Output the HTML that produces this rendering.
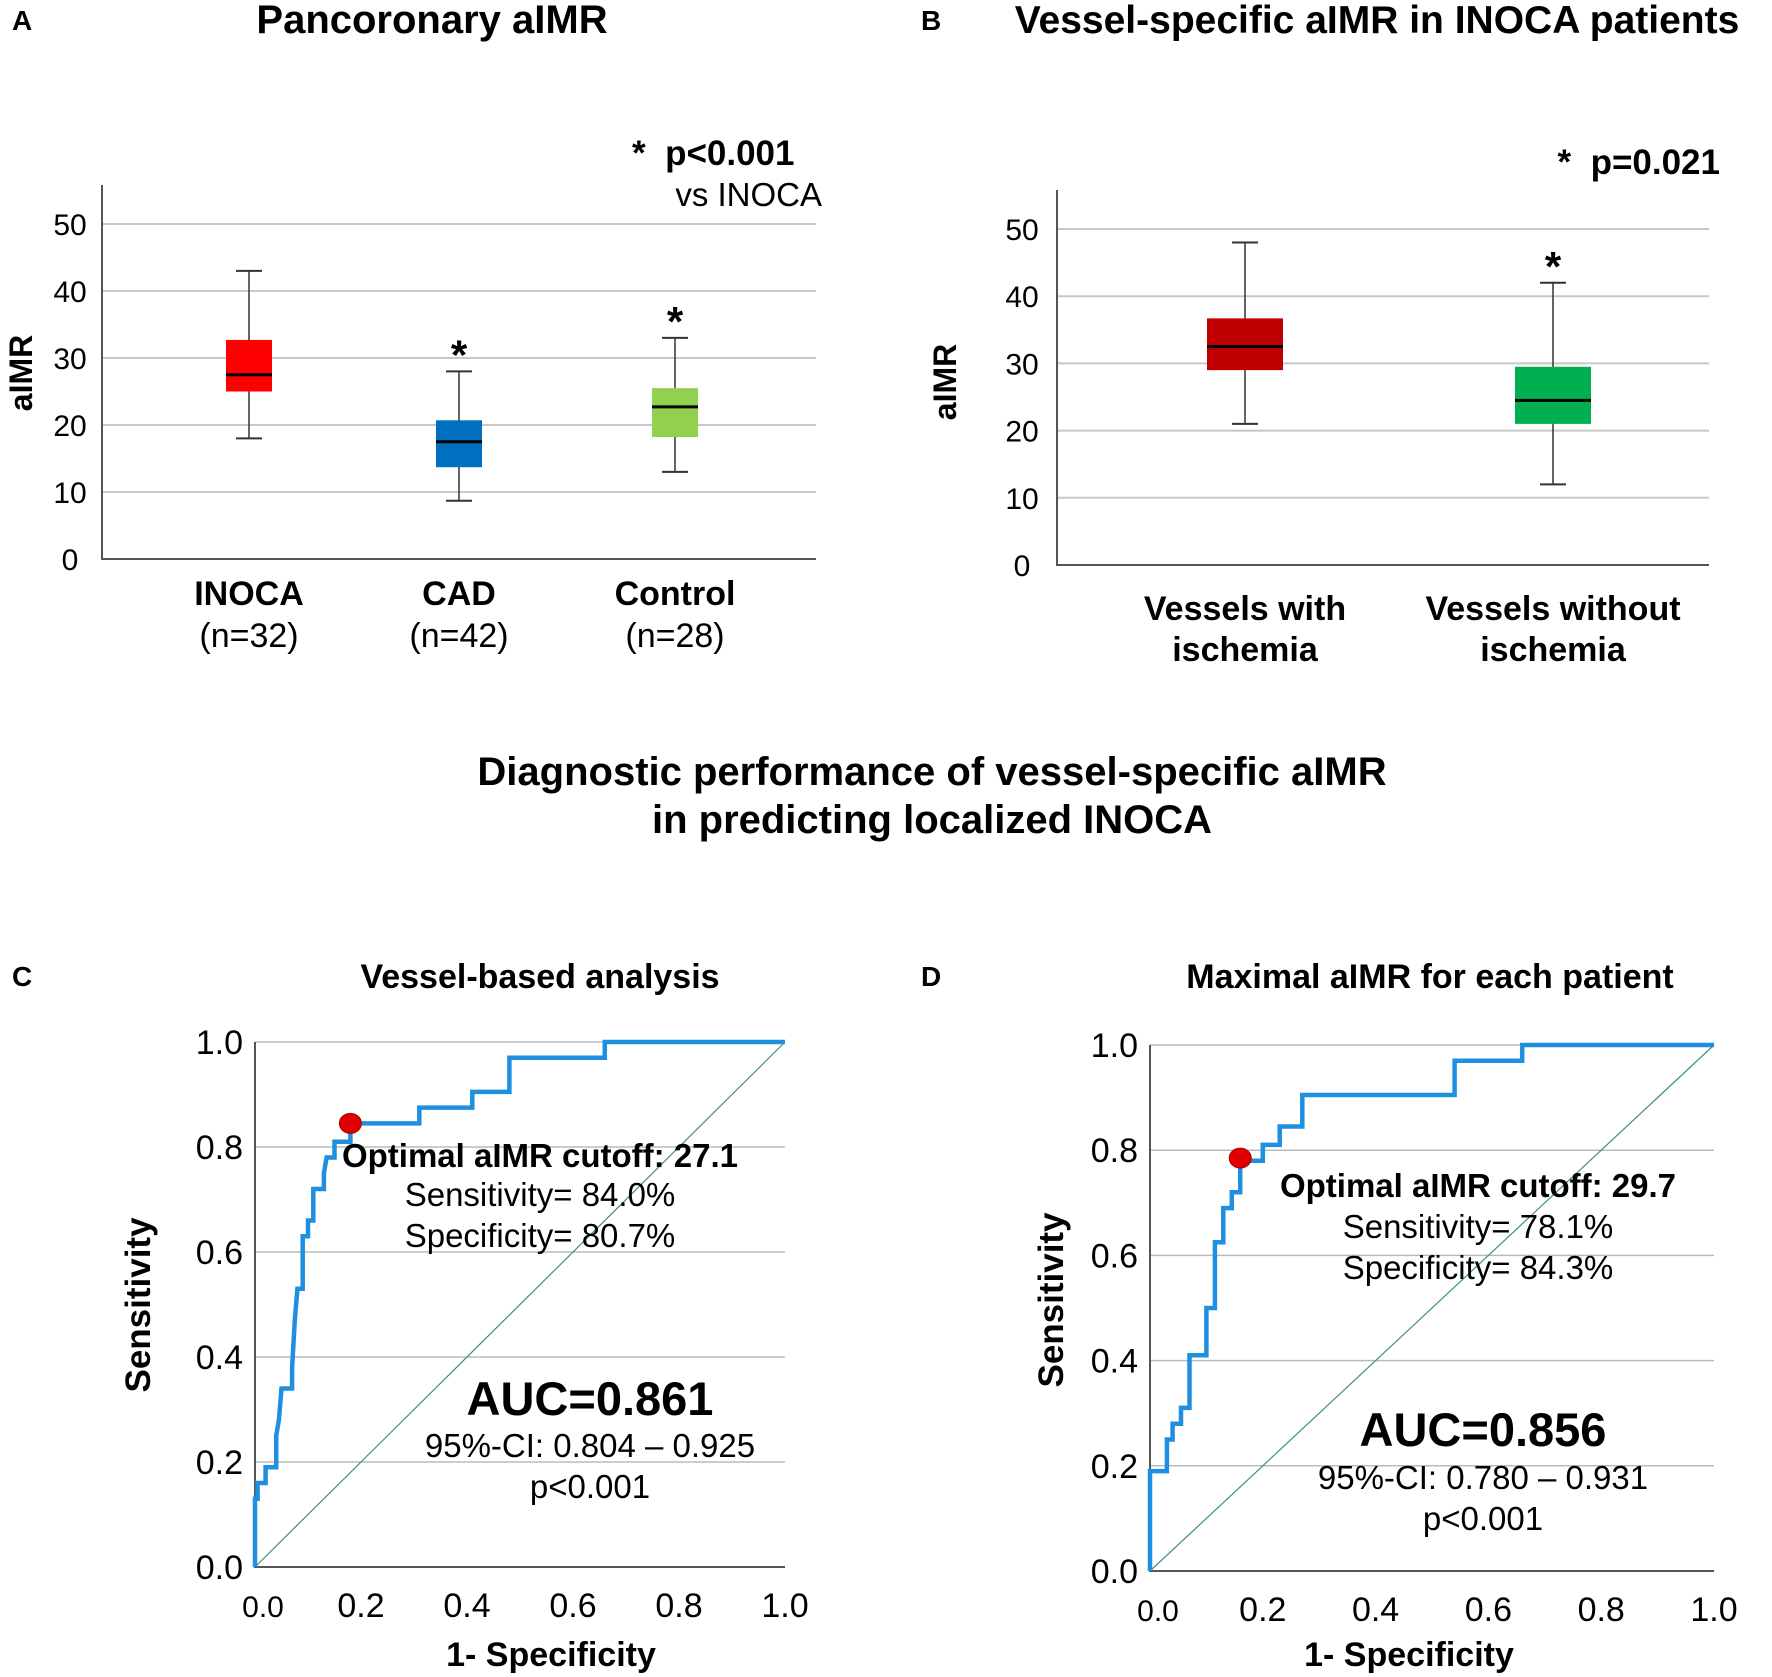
<!DOCTYPE html>
<html><head><meta charset="utf-8">
<style>
html,body{margin:0;padding:0;background:#fff;}
svg{display:block;font-family:"Liberation Sans",Arial,sans-serif;}
.b{font-weight:bold;}
</style></head>
<body>
<svg id="fig" width="1772" height="1677" viewBox="0 0 1772 1677" xmlns="http://www.w3.org/2000/svg">
<g id="static" fill="#000">
<text x="12" y="30" font-size="28" class="b">A</text>
<text x="432" y="33" font-size="40" class="b" text-anchor="middle">Pancoronary aIMR</text>
<text x="921" y="30" font-size="28" class="b">B</text>
<text x="1377" y="33" font-size="39" class="b" text-anchor="middle">Vessel-specific aIMR in INOCA patients</text>
<text x="632" y="165" font-size="35" class="b">*&#160; p&lt;0.001</text>
<text x="822" y="206" font-size="33" text-anchor="end">vs INOCA</text>
<text x="1720" y="174" font-size="35" class="b" text-anchor="end">*&#160; p=0.021</text>
<text transform="translate(32,373) rotate(-90)" font-size="32" class="b" text-anchor="middle">aIMR</text>
<text transform="translate(956,382) rotate(-90)" font-size="32" class="b" text-anchor="middle">aIMR</text>
<text x="932" y="785" font-size="40" class="b" text-anchor="middle">Diagnostic performance of vessel-specific aIMR</text>
<text x="932" y="833" font-size="40" class="b" text-anchor="middle">in predicting localized INOCA</text>
<text x="12" y="986" font-size="28" class="b">C</text>
<text x="540" y="988" font-size="34" class="b" text-anchor="middle">Vessel-based analysis</text>
<text x="921" y="986" font-size="28" class="b">D</text>
<text x="1430" y="988" font-size="34" class="b" text-anchor="middle">Maximal aIMR for each patient</text>
<text transform="translate(150,1305) rotate(-90)" font-size="35" class="b" text-anchor="middle">Sensitivity</text>
<text transform="translate(1063,1300) rotate(-90)" font-size="35" class="b" text-anchor="middle">Sensitivity</text>
<text x="551" y="1666" font-size="34" class="b" text-anchor="middle">1- Specificity</text>
<text x="1409" y="1666" font-size="34" class="b" text-anchor="middle">1- Specificity</text>
</g>
<g id="dyn"></g>
</svg>
<script>
// Panel A data
const catsA = ["INOCA","CAD","Control"];
const nA = ["(n=32)","(n=42)","(n=28)"];
const minA = [18, 8.7, 13];
const q1A = [25, 13.7, 18.2];
const medA = [27.5, 17.5, 22.7];
const q3A = [32.7, 20.7, 25.5];
const maxA = [43, 28, 33];
const starA = [false, true, true];
// Panel B data
const catsB1 = ["Vessels with","Vessels without"];
const catsB2 = ["ischemia","ischemia"];
const minB = [21, 12];
const q1B = [29, 21];
const medB = [32.5, 24.5];
const q3B = [36.7, 29.5];
const maxB = [48, 42];
const starB = [false, true];
const yTicksBox = [0,10,20,30,40,50];
// ROC C
const fprC = [0,0,0.005,0.005,0.02,0.02,0.04,0.04,0.045,0.05,0.07,0.07,0.075,0.08,0.09,0.09,0.10,0.10,0.11,0.11,0.13,0.13,0.135,0.15,0.15,0.18,0.18,0.31,0.31,0.41,0.41,0.48,0.48,0.66,0.66,1];
const tprC = [0,0.13,0.13,0.16,0.16,0.19,0.19,0.25,0.28,0.34,0.34,0.38,0.47,0.53,0.53,0.63,0.63,0.66,0.66,0.72,0.72,0.75,0.78,0.78,0.81,0.81,0.845,0.845,0.875,0.875,0.905,0.905,0.97,0.97,1,1];
const cutC = [0.18, 0.845];
// ROC D
const fprD = [0,0,0.03,0.03,0.04,0.04,0.055,0.055,0.07,0.07,0.1,0.1,0.115,0.115,0.13,0.13,0.145,0.145,0.16,0.16,0.2,0.2,0.23,0.23,0.27,0.27,0.54,0.54,0.66,0.66,1];
const tprD = [0,0.19,0.19,0.25,0.25,0.28,0.28,0.31,0.31,0.41,0.41,0.5,0.5,0.625,0.625,0.69,0.69,0.72,0.72,0.78,0.78,0.81,0.81,0.845,0.845,0.905,0.905,0.97,0.97,1,1];
const cutD = [0.16, 0.785];
const rocTicks = [0,0.2,0.4,0.6,0.8,1.0];
const rocTickLabels = ["0.0","0.2","0.4","0.6","0.8","1.0"];

const NS="http://www.w3.org/2000/svg";
const root=document.getElementById('dyn');
function mk(tag,attrs,parent){const e=document.createElementNS(NS,tag);for(const k in attrs)e.setAttribute(k,attrs[k]);(parent||root).appendChild(e);return e;}
function txt(x,y,s,size,anchor,bold,parent){const t=mk('text',{x:x,y:y,'font-size':size,'text-anchor':anchor||'middle'},parent);if(bold)t.setAttribute('font-weight','bold');t.textContent=s;return t;}

function boxPanel(o){
  const g=mk('g',{});
  
  
  const y=v=>o.y0-(v/50)*(o.y0-o.y50);
  yTicksBox.forEach(v=>{
    if(v>0){const l=mk('line',{x1:o.x0,x2:o.x1,y1:y(v),y2:y(v),stroke:'#c8c8c8','stroke-width':2},g);
      
      }
    const t=txt(o.tx,y(v)+11,String(v),30,'middle',false,g);
    
    
  });
  const ax=mk('path',{d:`M${o.x0} ${o.top}V${o.y0}H${o.x1}`,fill:'none',stroke:'#555','stroke-width':2},g);
  
  
  o.cx.forEach((cx,i)=>{
    const bg=mk('g',{},g);
    
    
    const w=o.bw, cw=o.cw;
    mk('line',{x1:cx,x2:cx,y1:y(o.max[i]),y2:y(o.min[i]),stroke:'#333','stroke-width':1.5},bg);
    mk('line',{x1:cx-cw,x2:cx+cw,y1:y(o.max[i]),y2:y(o.max[i]),stroke:'#333','stroke-width':2},bg);
    mk('line',{x1:cx-cw,x2:cx+cw,y1:y(o.min[i]),y2:y(o.min[i]),stroke:'#333','stroke-width':2},bg);
    mk('rect',{x:cx-w/2,y:y(o.q3[i]),width:w,height:y(o.q1[i])-y(o.q3[i]),fill:o.colors[i]},bg);
    mk('line',{x1:cx-w/2,x2:cx+w/2,y1:y(o.med[i]),y2:y(o.med[i]),stroke:'#000','stroke-width':3},bg);
    if(o.star[i]){const s=txt(cx,y(o.max[i])-2,'*',42,'middle',true,g);
      
      }
    const l1=txt(cx,o.ly1,o.lab1[i],34,'middle',true,g);
    
    
    const l2=txt(cx,o.ly2,o.lab2[i],34,'middle',o.lab2bold,g);
    
    
  });
}
boxPanel({name:'panel-a-boxplot',x0:102,x1:816,y0:559,y50:224,top:185,tx:70,cx:[249,459,675],bw:46,cw:13,
  min:minA,q1:q1A,med:medA,q3:q3A,max:maxA,star:starA,colors:['#ff0000','#0070c0','#92d050'],
  lab1:catsA,lab2:nA,lab2bold:false,ly1:605,ly2:647});
boxPanel({name:'panel-b-boxplot',x0:1057,x1:1709,y0:565,y50:229,top:190,tx:1022,cx:[1245,1553],bw:76,cw:13,
  min:minB,q1:q1B,med:medB,q3:q3B,max:maxB,star:starB,colors:['#c00000','#00b050'],
  lab1:catsB1,lab2:catsB2,lab2bold:true,ly1:620,ly2:661});

function rocPanel(o){
  const g=mk('g',{});
  
  
  const X=v=>o.x0+v*(o.x1-o.x0), Y=v=>o.y0-v*(o.y0-o.y1);
  rocTicks.forEach((v,i)=>{
    if(v>0){const l=mk('line',{x1:o.x0,x2:o.x1,y1:Y(v),y2:Y(v),stroke:'#bbb','stroke-width':1.5},g);
      
      }
    const t=txt(o.x0-12,Y(v)+12,rocTickLabels[i],34,'end',false,g);
    
    
    const t2=txt(X(v)+(i==0?8:0),o.y0+50,rocTickLabels[i],i==0?30:34,'middle',false,g);
    
    
  });
  const ax=mk('path',{d:`M${o.x0} ${o.y1}V${o.y0}H${o.x1}`,fill:'none',stroke:'#555','stroke-width':2},g);
  
  
  const diag=mk('line',{x1:X(0),y1:Y(0),x2:X(1),y2:Y(1),stroke:'#3f8f7f','stroke-width':1.2},g);
  
  
  let d='';o.fpr.forEach((f,i)=>{d+=(i?'L':'M')+X(f).toFixed(1)+' '+Y(o.tpr[i]).toFixed(1);});
  const p=mk('path',{d:d,fill:'none',stroke:'#1f8fe0','stroke-width':4.5,'stroke-linejoin':'miter'},g);
  
  
  const c=mk('ellipse',{cx:X(o.cut[0]),cy:Y(o.cut[1]),rx:11,ry:10,fill:'#e00000',stroke:'#a00','stroke-width':1},g);
  
  
  const a=o.ann;
  [[a.cx,a.y1,a.cut,33,true,'cutoff-label'],[a.cx,a.y2,a.sens,33,false,'sensitivity-label'],[a.cx,a.y3,a.spec,33,false,'specificity-label'],
   [a.ax,a.y4,a.auc,47,true,'auc-label'],[a.ax,a.y5,a.ci,33,false,'ci-label'],[a.ax,a.y6,'p<0.001',33,false,'p-label']].forEach(r=>{
    const t=txt(r[0],r[1],r[2],r[3],'middle',r[4],g);
    
    
  });
}
rocPanel({name:'panel-c-roc',x0:255,x1:785,y0:1567,y1:1042,fpr:fprC,tpr:tprC,cut:cutC,
  ann:{cx:540,ax:590,y1:1167,y2:1206,y3:1247,y4:1415,y5:1457,y6:1498,cut:'Optimal aIMR cutoff: 27.1',sens:'Sensitivity= 84.0%',spec:'Specificity= 80.7%',auc:'AUC=0.861',ci:'95%-CI: 0.804 – 0.925'}});
rocPanel({name:'panel-d-roc',x0:1150,x1:1714,y0:1571,y1:1045,fpr:fprD,tpr:tprD,cut:cutD,
  ann:{cx:1478,ax:1483,y1:1197,y2:1238,y3:1279,y4:1446,y5:1489,y6:1530,cut:'Optimal aIMR cutoff: 29.7',sens:'Sensitivity= 78.1%',spec:'Specificity= 84.3%',auc:'AUC=0.856',ci:'95%-CI: 0.780 – 0.931'}});
</script>
</body></html>
